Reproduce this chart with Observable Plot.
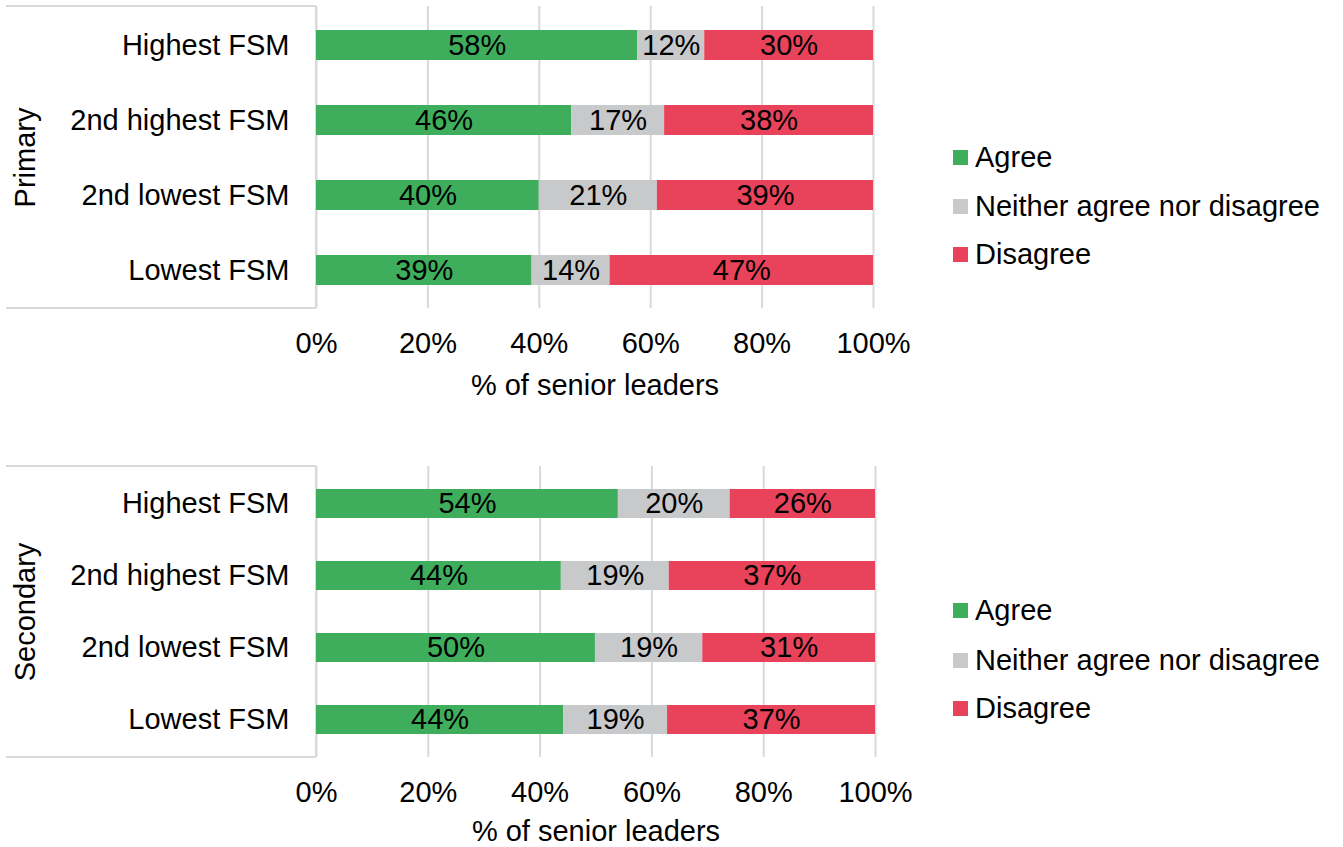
<!DOCTYPE html>
<html>
<head>
<meta charset="utf-8">
<script src="https://cdn.jsdelivr.net/npm/d3@7"></script>
<script src="https://cdn.jsdelivr.net/npm/@observablehq/plot@0.6"></script>
<style>
  html, body { margin: 0; padding: 0; background: #fff; }
  #root { position: relative; width: 1343px; height: 847px; font-family: "Liberation Sans", Arial, sans-serif; }
  .panel { position: absolute; left: 0; overflow: visible; }
  .legend-item { position: absolute; left: 953px; display: flex; align-items: center; font-size: 29px; line-height: 34px; color: #000; white-space: nowrap; }
  .legend-item .sw { width: 15px; height: 15px; margin-right: 7px; }
</style>
</head>
<body>
<div id="root"></div>
<script>
// ---- data ----
const categories = ["Highest FSM", "2nd highest FSM", "2nd lowest FSM", "Lowest FSM"];
const responses = ["Agree", "Neither agree nor disagree", "Disagree"];
const colors = ["#3fae5c", "#c8c9cb", "#e8435a"];
const groups = ["Primary", "Secondary"];
const xTicks = [0, 20, 40, 60, 80, 100];
const xLabel = "% of senior leaders";

const primaryAgree    = [57.7, 45.8, 40.0, 38.7];
const primaryNeither  = [12.0, 16.7, 21.2, 14.0];
const primaryDisagree = [30.3, 37.5, 38.8, 47.3];

const secondaryAgree    = [54.0, 43.8, 49.9, 44.2];
const secondaryNeither  = [20.0, 19.3, 19.2, 18.6];
const secondaryDisagree = [26.0, 36.9, 30.9, 37.2];

function buildRows(series) {
  const rows = [];
  categories.forEach((c, i) => {
    responses.forEach((r, j) => rows.push({cat: c, resp: r, value: series[j][i]}));
  });
  return rows;
}

const FONT = "'Liberation Sans', Arial, sans-serif";
const FS = 29;
const LINE = "#d9d9d9";

function frameLines(index, scales, values, dim) {
  const g = d3.create("svg:g").attr("stroke", LINE).attr("stroke-width", 2).attr("fill", "none");
  const top = dim.marginTop, bottom = dim.height - dim.marginBottom, left = dim.marginLeft;
  g.append("line").attr("x1", 6).attr("x2", left).attr("y1", top).attr("y2", top);
  g.append("line").attr("x1", 6).attr("x2", left).attr("y1", bottom).attr("y2", bottom);
  g.append("line").attr("x1", left).attr("x2", left).attr("y1", top).attr("y2", bottom);
  return g.node();
}

function panel(rows, group, opts) {
  return Plot.plot({
    width: 930,
    height: opts.height,
    marginTop: 6,
    marginBottom: opts.marginBottom,
    marginLeft: 316,
    marginRight: opts.marginRight,
    style: {fontFamily: FONT, fontSize: FS + "px", color: "#000", background: "transparent", overflow: "visible"},
    x: {domain: [0, 100]},
    y: {domain: categories, paddingInner: 0.6, paddingOuter: 0.3},
    color: {domain: responses, range: colors},
    marks: [
      Plot.gridX(xTicks, {stroke: LINE, strokeOpacity: 1, strokeWidth: 2}),
      frameLines,
      Plot.barX(rows, Plot.stackX({x: "value", y: "cat", fill: "resp"})),
      Plot.text(rows, Plot.stackX({x: "value", y: "cat", z: "resp", text: d => Math.round(d.value) + "%", fill: "#000", fontSize: FS})),
      Plot.axisX(xTicks, {tickSize: 0, tickPadding: 24, tickFormat: d => d + "%", fontSize: FS, label: null}),
      Plot.axisY({tickSize: 0, tickPadding: 27, fontSize: FS, label: null}),
      Plot.text([xLabel], {frameAnchor: "bottom", dy: opts.titleDy, fontSize: FS, fill: "#000", lineAnchor: "middle", textAnchor: "middle"}),
      Plot.text([group], {frameAnchor: "left", dx: 25 - 316, rotate: -90, fontSize: FS, fill: "#000", lineAnchor: "middle", textAnchor: "middle"})
    ]
  });
}

const root = document.getElementById("root");

const p1 = panel(buildRows([primaryAgree, primaryNeither, primaryDisagree]), groups[0],
  {height: 420, marginBottom: 112, marginRight: 57, titleDy: 77});
p1.classList.add("panel");
p1.style.top = "0px";
root.appendChild(p1);

const p2 = panel(buildRows([secondaryAgree, secondaryNeither, secondaryDisagree]), groups[1],
  {height: 387, marginBottom: 90, marginRight: 55, titleDy: 74});
p2.classList.add("panel");
p2.style.top = "460px";
root.appendChild(p2);

function legend(centers) {
  responses.forEach((r, i) => {
    const item = document.createElement("div");
    item.className = "legend-item";
    item.style.top = (centers[i] - 17) + "px";
    const sw = document.createElement("span");
    sw.className = "sw";
    sw.style.background = colors[i];
    const tx = document.createElement("span");
    tx.textContent = r;
    item.appendChild(sw);
    item.appendChild(tx);
    root.appendChild(item);
  });
}
legend([157, 206, 254]);
legend([610, 660, 708]);
</script>
</body>
</html>
